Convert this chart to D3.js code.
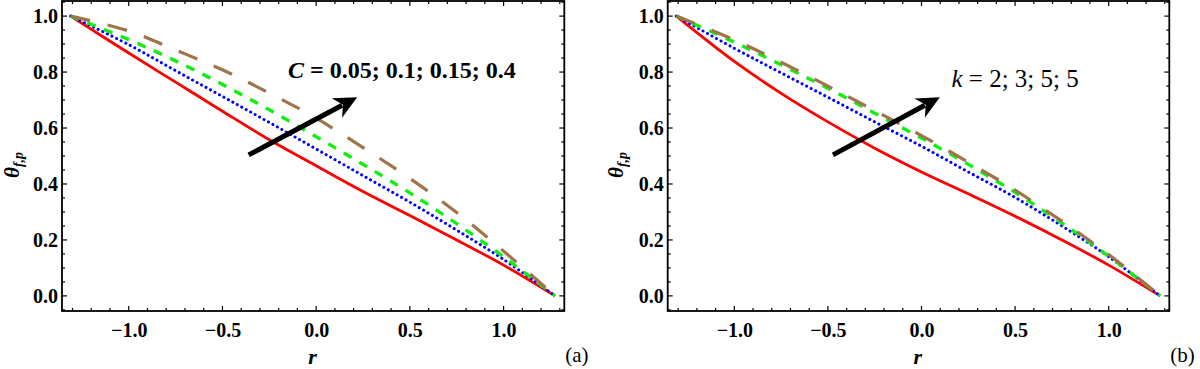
<!DOCTYPE html>
<html>
<head>
<meta charset="utf-8">
<script src="https://cdn.jsdelivr.net/npm/d3@7"></script>
<style>
  html, body { margin: 0; padding: 0; background: #fff; }
  svg { display: block; }
  text { font-family: "Liberation Serif", "DejaVu Serif", serif; }
</style>
</head>
<body>
<svg id="chart" width="1200" height="369"></svg>
<script>
// ---------------- DATA ----------------
const rGrid = [-1.31, -1.0, -0.75, -0.5, -0.25, 0, 0.25, 0.5, 0.75, 1.0, 1.275];

// Panel (a): C = 0.05; 0.1; 0.15; 0.4
const a_red   = [1.0, 0.868, 0.764, 0.660, 0.558, 0.465, 0.373, 0.287, 0.200, 0.110, 0];
const a_blue  = [1.0, 0.898, 0.805, 0.713, 0.620, 0.525, 0.430, 0.335, 0.235, 0.130, 0];
const a_green = [1.0, 0.916, 0.840, 0.756, 0.665, 0.569, 0.470, 0.368, 0.258, 0.140, 0];
const a_brown = [1.0, 0.947, 0.879, 0.808, 0.725, 0.635, 0.530, 0.420, 0.298, 0.160, 0];

// Panel (b): k = 2; 3; 5; 5
const b_red   = [1.0, 0.838, 0.724, 0.622, 0.528, 0.443, 0.365, 0.285, 0.200, 0.110, 0];
const b_blue  = [1.0, 0.885, 0.797, 0.710, 0.622, 0.535, 0.443, 0.352, 0.250, 0.140, 0];
const b_green = [1.0, 0.907, 0.826, 0.742, 0.653, 0.564, 0.470, 0.370, 0.260, 0.142, 0];
const b_brown = [1.0, 0.915, 0.835, 0.750, 0.662, 0.573, 0.478, 0.378, 0.267, 0.148, 0];

const xTickValues = [-1.0, -0.5, 0.0, 0.5, 1.0];
const xTickLabels = ["\u22121.0", "\u22120.5", "0.0", "0.5", "1.0"];
const yTickValues = [0.0, 0.2, 0.4, 0.6, 0.8, 1.0];
const yTickLabels = ["0.0", "0.2", "0.4", "0.6", "0.8", "1.0"];

const annotA = "C = 0.05; 0.1; 0.15; 0.4";
const annotB = "k = 2; 3; 5; 5";
const panelTags = ["(a)", "(b)"];

// ---------------- STYLE ----------------
const seriesStyle = [
  { color: "#ff0000", width: 2.8, dash: null, cap: "butt" },
  { color: "#0000ff", width: 3.0, dash: "0.1 5", cap: "round" },
  { color: "#11ee11", width: 3.4, dash: "9 9", cap: "butt" },
  { color: "#a0744a", width: 3.2, dash: "20 18", cap: "butt" }
];

const svg = d3.select("#chart");
const xDomain = [-1.356, 1.324];
const yDomain = [-0.054, 1.054];

const panels = [
  { id: "a", left: 62, right: 564.3, series: [a_red, a_blue, a_green, a_brown],
    annot: { r: -0.15, t: 0.779, text: annotA, bold: true },
    arrow: { r0: -0.36, t0: 0.504, r1: 0.219, t1: 0.71 },
    ylab: { x: 19 }, tag: 0 },
  { id: "b", left: 667.7, right: 1169.3, series: [b_red, b_blue, b_green, b_brown],
    annot: { r: 0.16, t: 0.746, text: annotB, bold: false },
    arrow: { r0: -0.473, t0: 0.504, r1: 0.098, t1: 0.71 },
    ylab: { x: 623 }, tag: 1 }
];

const plotTop = 1, plotBottom = 311;

panels.forEach((p) => {
  const x = d3.scaleLinear().domain(xDomain).range([p.left, p.right]);
  const y = d3.scaleLinear().domain(yDomain).range([plotBottom, plotTop]);
  const g = svg.append("g");

  const clipId = "clip-" + p.id;
  svg.append("clipPath").attr("id", clipId)
    .append("rect").attr("x", p.left).attr("y", plotTop)
    .attr("width", p.right - p.left).attr("height", plotBottom - plotTop);

  // curves
  const line = d3.line()
    .x((d, i) => x(rGrid[i]))
    .y(d => y(d))
    .curve(d3.curveCatmullRom.alpha(0.5));
  const cg = g.append("g").attr("clip-path", `url(#${clipId})`);
  p.series.forEach((s, si) => {
    const st = seriesStyle[si];
    cg.append("path")
      .attr("d", line(s))
      .attr("fill", "none")
      .attr("stroke", st.color)
      .attr("stroke-width", st.width)
      .attr("stroke-linecap", st.cap)
      .attr("stroke-dasharray", st.dash);
  });

  // frame ticks (inward, all four sides)
  const majorLen = 5, minorLen = 3;
  const xMinor = d3.range(-13, 14).map(v => v / 10).filter(v => v >= xDomain[0] && v <= xDomain[1]);
  const yMinor = d3.range(-1, 22).map(v => v / 20).filter(v => v >= yDomain[0] && v <= yDomain[1]);
  const isMajX = v => Math.abs(v * 2 - Math.round(v * 2)) < 1e-6;
  const isMajY = v => Math.abs(v * 5 - Math.round(v * 5)) < 1e-6;
  const tg = g.append("g").attr("stroke", "#000").attr("stroke-width", 1.2);
  xMinor.forEach(v => {
    const L = isMajX(v) ? majorLen : minorLen;
    tg.append("line").attr("x1", x(v)).attr("x2", x(v)).attr("y1", plotBottom).attr("y2", plotBottom - L);
    tg.append("line").attr("x1", x(v)).attr("x2", x(v)).attr("y1", plotTop).attr("y2", plotTop + L);
  });
  yMinor.forEach(v => {
    const L = isMajY(v) ? majorLen : minorLen;
    tg.append("line").attr("y1", y(v)).attr("y2", y(v)).attr("x1", p.left).attr("x2", p.left + L);
    tg.append("line").attr("y1", y(v)).attr("y2", y(v)).attr("x1", p.right).attr("x2", p.right - L);
  });

  // frame
  g.append("rect").attr("x", p.left).attr("y", plotTop)
    .attr("width", p.right - p.left).attr("height", plotBottom - plotTop)
    .attr("fill", "none").attr("stroke", "#000").attr("stroke-width", 1.8);

  // tick labels via d3 axes (lines hidden)
  const xAxis = d3.axisBottom(x).tickValues(xTickValues)
    .tickFormat((d, i) => xTickLabels[i]).tickSize(0).tickPadding(0);
  const xa = g.append("g").attr("transform", `translate(0,${plotBottom})`).call(xAxis);
  xa.attr("font-family", null);
  xa.select(".domain").remove();
  xa.selectAll("text").attr("dy", null).attr("y", 26)
    .style("font-family", "'Liberation Serif', serif").style("font-weight", "bold")
    .style("font-size", "20px").attr("fill", "#000");

  const yAxis = d3.axisLeft(y).tickValues(yTickValues)
    .tickFormat((d, i) => yTickLabels[i]).tickSize(0).tickPadding(4);
  const ya = g.append("g").attr("transform", `translate(${p.left},0)`).call(yAxis);
  ya.attr("font-family", null);
  ya.select(".domain").remove();
  ya.selectAll("text")
    .style("font-family", "'Liberation Serif', serif").style("font-weight", "bold")
    .style("font-size", "20px").attr("fill", "#000");

  // x label r
  g.append("text").attr("x", x(0) - 8).attr("y", 364)
    .style("font-style", "italic").style("font-weight", "bold").style("font-size", "22px")
    .text("r");

  // y label theta_{f,p}
  const yl = g.append("text")
    .attr("transform", `translate(${p.ylab.x},178) rotate(-90)`)
    .style("font-weight", "bold").style("font-style", "italic").style("font-size", "21px");
  yl.append("tspan").text("\u03b8");
  yl.append("tspan").attr("dy", 4).style("font-size", "14px").text("f,p");

  // panel tag
  g.append("text").attr("x", p.right + 1).attr("y", 362)
    .style("font-size", "21px").text(panelTags[p.tag]);

  // annotation text
  const at = g.append("text").attr("x", x(p.annot.r)).attr("y", y(p.annot.t))
    .style("font-size", p.annot.bold ? "24px" : "25px")
    .style("font-weight", p.annot.bold ? "bold" : "normal");
  at.append("tspan").style("font-style", "italic").text(p.annot.text.charAt(0));
  at.append("tspan").text(p.annot.text.slice(1));

  // arrow
  const ax0 = x(p.arrow.r0), ay0 = y(p.arrow.t0), ax1 = x(p.arrow.r1), ay1 = y(p.arrow.t1);
  const dx = ax1 - ax0, dy = ay1 - ay0, len = Math.hypot(dx, dy);
  const ux = dx / len, uy = dy / len, nx = -uy, ny = ux;
  const headL = 23, headW = 11, notch = 16;
  g.append("line").attr("x1", ax0).attr("y1", ay0)
    .attr("x2", ax1 - ux * (notch + 1)).attr("y2", ay1 - uy * (notch + 1))
    .attr("stroke", "#000").attr("stroke-width", 5);
  const pts = [
    [ax1, ay1],
    [ax1 - ux * headL + nx * headW, ay1 - uy * headL + ny * headW],
    [ax1 - ux * notch, ay1 - uy * notch],
    [ax1 - ux * headL - nx * headW, ay1 - uy * headL - ny * headW]
  ];
  g.append("polygon").attr("points", pts.map(q => q.join(",")).join(" ")).attr("fill", "#000");
});
</script>
</body>
</html>
